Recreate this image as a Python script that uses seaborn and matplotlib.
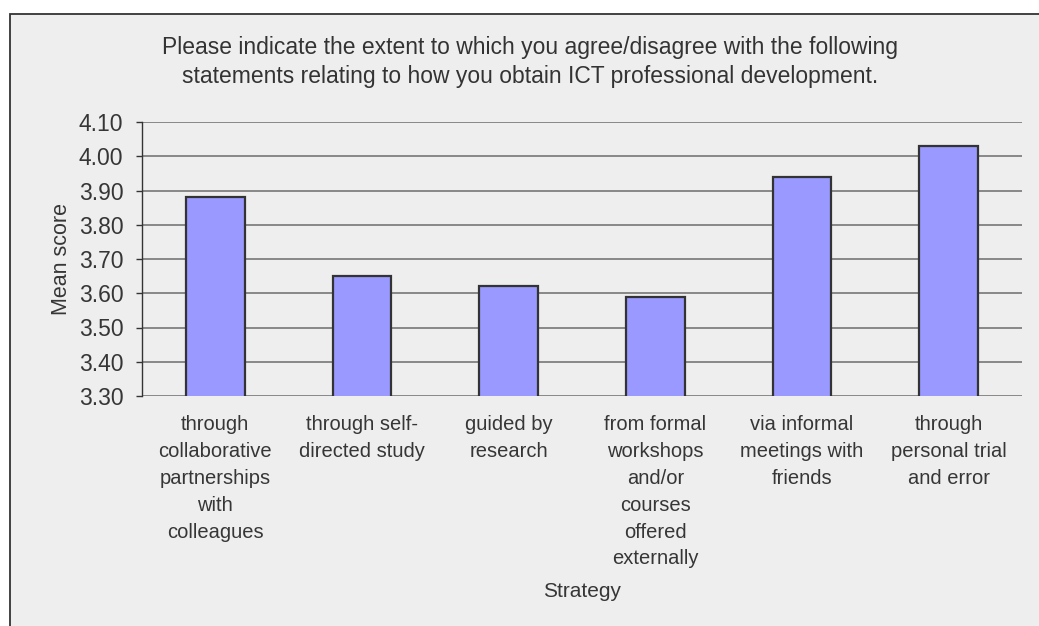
import matplotlib
matplotlib.use("Agg")
import matplotlib.pyplot as plt
from matplotlib.patches import Rectangle
from matplotlib import font_manager
import seaborn as sns
import pandas as pd

categories = [
    "through\ncollaborative\npartnerships\nwith\ncolleagues",
    "through self-\ndirected study",
    "guided by\nresearch",
    "from formal\nworkshops\nand/or\ncourses\noffered\nexternally",
    "via informal\nmeetings with\nfriends",
    "through\npersonal trial\nand error",
]
mean_scores = [3.88, 3.65, 3.62, 3.59, 3.94, 4.03]
y_ticks = [3.30, 3.40, 3.50, 3.60, 3.70, 3.80, 3.90, 4.00, 4.10]

title = ("Please indicate the extent to which you agree/disagree with the following\n"
         "statements relating to how you obtain ICT professional development.")

sns.set_theme(style="white")
installed = {f.name for f in font_manager.fontManager.ttflist}
narrow = "Liberation Sans Narrow" if "Liberation Sans Narrow" in installed else "Liberation Sans"
plt.rcParams["font.family"] = ["Liberation Sans", "DejaVu Sans"]

text_color = "#363636"
panel_color = "#eeeeee"

fig = plt.figure(figsize=(10.39, 6.26), dpi=100)
fig.patch.set_facecolor("white")

# grey chart panel with a dark border on the top and left
bg = fig.add_axes([0, 0, 1, 1], zorder=0)
bg.set_xlim(0, 1039)
bg.set_ylim(626, 0)
bg.axis("off")
bg.add_patch(Rectangle((10, 14), 1040, 620, facecolor=panel_color,
                       edgecolor="#333333", linewidth=1.3))

ax = fig.add_axes([142 / 1039, 1 - 396 / 626, 880 / 1039, 274 / 626], zorder=1)
ax.patch.set_alpha(0)

df = pd.DataFrame({"Strategy": categories, "Mean score": mean_scores})
sns.barplot(data=df, x="Strategy", y="Mean score", color="#9999ff",
            saturation=1, width=0.4, edgecolor="#333333", linewidth=1.6,
            ax=ax, zorder=3)

ax.set_ylim(3.30, 4.10)
ax.set_xlim(-0.5, len(categories) - 0.5)
ax.set_yticks(y_ticks)
ax.set_yticklabels([f"{v:.2f}" for v in y_ticks], fontsize=16.5, color=text_color)
ax.yaxis.grid(True, color="#808080", linewidth=1.3, zorder=1)
ax.set_axisbelow(True)
for s in ["top", "right", "bottom"]:
    ax.spines[s].set_visible(False)
ax.spines["left"].set_color("#333333")
ax.spines["left"].set_linewidth(1.0)
ax.tick_params(axis="y", left=True, length=4.5, width=1.0, color="#333333", pad=9)
ax.tick_params(axis="x", bottom=False, pad=8)

ax.set_xticks(range(len(categories)))
ax.set_xticklabels(categories, fontsize=14.5, color=text_color, family=narrow,
                   linespacing=1.52, va="top")

ax.set_xlabel("Strategy", fontsize=15, color=text_color, family=narrow, labelpad=10)
ax.set_ylabel("Mean score", fontsize=15.5, color=text_color, labelpad=5)

fig.text(530 / 1039, 1 - 62 / 626, title, ha="center", va="center",
         fontsize=16.5, color="#333333", linespacing=1.3)

fig.savefig("out.png", dpi=100, facecolor=fig.get_facecolor())
